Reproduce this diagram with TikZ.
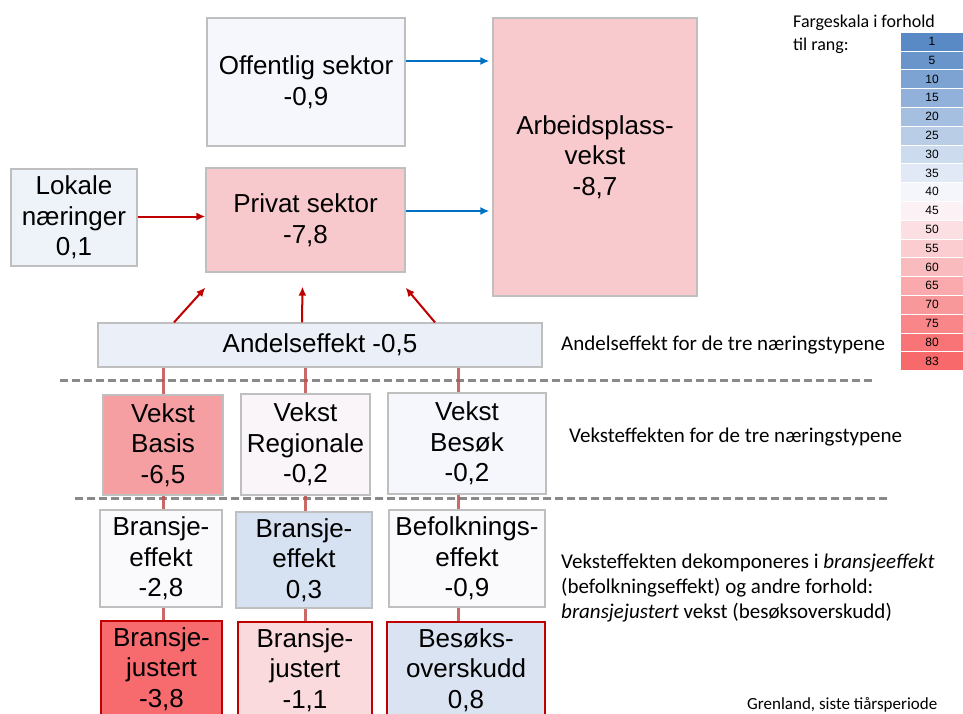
\documentclass[tikz,border=0pt]{standalone}
\usepackage{fontspec}
\setmainfont{Liberation Sans}
\newfontfamily\notefont{Carlito}
\usetikzlibrary{arrows.meta,positioning}

\definecolor{boxgray}{HTML}{BFBFBF}
\definecolor{adjred}{HTML}{C00000}
\definecolor{arrred}{HTML}{C00000}
\definecolor{linkred}{HTML}{C0504D}
\definecolor{flowblue}{HTML}{0070C0}
\definecolor{sepgray}{HTML}{898989}
\definecolor{lowc}{HTML}{5A8AC6}
\definecolor{midc}{HTML}{FCFCFF}
\definecolor{highc}{HTML}{F8696B}
% fyllfarger
\definecolor{offc}{HTML}{F5F7FC}
\definecolor{privc}{HTML}{F8C9CC}
\definecolor{lokc}{HTML}{EEF3FA}
\definecolor{arbc}{HTML}{F8CACE}
\definecolor{andelc}{HTML}{EBF0F8}
\definecolor{basisc}{HTML}{F59FA3}
\definecolor{regc}{HTML}{FAF5F8}
\definecolor{besokc}{HTML}{F5F7FC}
\definecolor{beac}{HTML}{FAF9FC}
\definecolor{bebc}{HTML}{D6E1F1}
\definecolor{befc}{HTML}{FAFAFD}
\definecolor{bjac}{HTML}{F76A6E}
\definecolor{bjbc}{HTML}{FBDADD}
\definecolor{besc}{HTML}{DAE3F2}

\begin{document}
\begin{tikzpicture}[x=1pt, y=-1pt,
    >={Latex[length=9pt,width=8pt]},
    every node/.append style={align=center},
    box/.style={draw=boxgray, line width=1.2pt, inner sep=0pt,
        font=\fontsize{26}{30.5}\selectfont},
    adj/.style={box, draw=adjred, line width=2.6pt},
    link/.style={draw=linkred, line width=3pt, opacity=.85},
    up/.style={->, draw=arrred, line width=2pt},
    flow/.style={->, draw=flowblue, line width=2pt},
    sep/.style={draw=sepgray, line width=3pt, dash pattern=on 8pt off 4pt},
    note/.style={anchor=west, align=left, inner sep=0pt,
        font=\notefont\fontsize{21}{25}\selectfont}]
   \clip (0,0) rectangle (963,713);

   % top part
   \node [box, fill=offc, minimum width=198pt, minimum height=128pt] (off) at (306,82) {Offentlig sektor\\-0,9};
   \node [box, fill=privc, minimum width=199pt, minimum height=104pt] (priv) at (305.5,220) {Privat sektor\\-7,8};
   \node [box, fill=lokc, minimum width=126pt, minimum height=97pt] (lok) at (74,217.5) {Lokale\\næringer\\0,1};
   \node [box, fill=arbc, minimum width=204pt, minimum height=278pt] (arb) at (595,157) {Arbeidsplass-\\vekst\\-8,7};
   \node [box, fill=andelc, minimum width=444pt, minimum height=44pt] (andel) at (320,345) {Andelseffekt -0,5};

   \draw [flow] ([yshift=21pt]off.east) -- ([yshift=21pt,xshift=-3pt]off.east -| arb.west);
   \draw [flow] ([yshift=9pt]priv.east) -- ([yshift=9pt,xshift=-3pt]priv.east -| arb.west);
   \draw [up] ([yshift=1pt]lok.east) -- ([yshift=1pt]lok.east -| priv.west);
   \draw [up] ([xshift=-146pt]andel.north) -- ([yshift=-15pt]priv.south west);
   \draw [up] ([xshift=-18pt]andel.north) -- ([xshift=-3pt,yshift=-14pt]priv.south);
   \draw [up] ([xshift=115pt]andel.north) -- ([yshift=-15pt]priv.south east);

   % separators
   \draw [sep] (60,380) -- (875,380);
   \draw [sep] (75,498) -- (890,498);

   % vekst
   \node [box, fill=basisc, minimum width=120pt, minimum height=100pt] (basis) at (163,445) {Vekst\\Basis\\-6,5};
   \node [box, fill=regc, minimum width=129pt, minimum height=101pt] (reg) at (305.5,444.5) {Vekst\\Regionale\\-0,2};
   \node [box, fill=besokc, minimum width=158pt, minimum height=101pt] (besok) at (467,443.5) {Vekst\\Besøk\\-0,2};

   % dekomponering
   \node [box, fill=beac, minimum width=122pt, minimum height=97pt] (be1) at (161,558.5) {Bransje-\\effekt\\-2,8};
   \node [box, fill=bebc, minimum width=136pt, minimum height=96pt] (be2) at (304,560) {Bransje-\\effekt\\0,3};
   \node [box, fill=befc, minimum width=156pt, minimum height=97pt] (bef) at (467,558.5) {Befolknings-\\effekt\\-0,9};
   \node [adj, fill=bjac, minimum width=121pt, minimum height=96pt] (bj1) at (161.5,669) {Bransje-\\justert\\-3,8};
   \node [adj, fill=bjbc, minimum width=134pt, minimum height=96pt] (bj2) at (305,670) {Bransje-\\justert\\-1,1};
   \node [adj, fill=besc, minimum width=158pt, minimum height=96pt] (bes) at (466,670) {Besøks-\\overskudd\\0,8};

   \draw [link] (basis.north |- andel.south) -- (basis.north);
   \draw [link] (reg.north |- andel.south) -- (reg.north);
   \draw [link] ([xshift=-9pt]besok.north |- andel.south) -- ([xshift=-9pt]besok.north);
   \draw [link] (basis.south) -- (basis.south |- be1.north);
   \draw [link] (reg.south) -- (reg.south |- be2.north);
   \draw [link] ([xshift=-9pt]besok.south) -- ([xshift=-9pt]besok.south |- bef.north);
   \draw [link] (be1.south -| basis.south) -- (basis.south |- bj1.north);
   \draw [link] (be2.south -| reg.south) -- (reg.south |- bj2.north);
   \draw [link] ([xshift=-9pt]bef.south) -- ([xshift=-9pt]bef.south |- bes.north);

   % forklaringer
   \node [note] (n1) at (561,345) {Andelseffekt for de tre næringstypene};
   \node [note] (n2) at (569,437) {Veksteffekten for de tre næringstypene};
   \node [note] (n3) at (561,588) {Veksteffekten dekomponeres i \textit{bransjeeffekt}\\(befolkningseffekt) og andre forhold:\\\textit{bransjejustert} vekst (besøksoverskudd)};
   \node [note, font=\notefont\fontsize{17}{20}\selectfont] (src) at (747,705) {Grenland, siste tiårsperiode};

   % fargeskala
   \node [note, font=\notefont\fontsize{18}{23}\selectfont] (scale) at (793,34) {Fargeskala i forhold\\til rang:};
   \foreach \v [count=\i from 0] in {1,5,10,15,20,25,30,35,40,45,50,55,60,65,70,75,80,83} {
      \pgfmathsetmacro\pb{max(0,100*(42-\v)/41)}
      \pgfmathsetmacro\pr{max(0,100*(\v-42)/41)}
      \colorlet{cellc}{highc!\pr!midc}
      \colorlet{cellc}{lowc!\pb!cellc}
      \fill [cellc, draw=white, line width=.3pt] (900,32+\i*18.8) rectangle (970,32+\i*18.8+18.8);
      \node [font=\fontsize{12}{12}\selectfont, inner sep=0pt] (r\i) at (932,32+\i*18.8+9.4) {\v};
   }
\end{tikzpicture}
\end{document}
